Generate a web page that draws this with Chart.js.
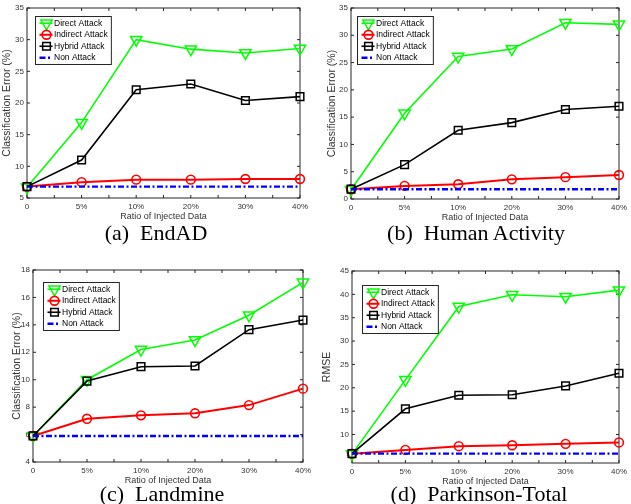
<!DOCTYPE html>
<html>
<head>
<meta charset="utf-8">
<script src="https://cdn.jsdelivr.net/npm/chart.js@4.4.1/dist/chart.umd.min.js"></script>
<style>
  html, body { margin: 0; padding: 0; background: #fff; }
  #page { position: relative; width: 631px; height: 504px; overflow: hidden; }
  .panel { position: absolute; }
  .caption {
    position: absolute;
    font: 22px "Liberation Serif", "Times New Roman", serif;
    color: #000;
    white-space: pre;
    transform: translate(-50%, -50%);
  }
</style>
</head>
<body>
<div id="page">
  <canvas id="endad" class="panel" width="315" height="226" style="left:0;top:0"></canvas>
  <canvas id="human" class="panel" width="316" height="227" style="left:315px;top:0"></canvas>
  <canvas id="landmine" class="panel" width="315" height="240" style="left:0;top:250px"></canvas>
  <canvas id="parkinson" class="panel" width="316" height="241" style="left:315px;top:250px"></canvas>
  <div class="caption" style="left:156px;top:233px">(a)  EndAD</div>
  <div class="caption" style="left:476px;top:233px">(b)  Human Activity</div>
  <div class="caption" style="left:162px;top:494px">(c)  Landmine</div>
  <div class="caption" style="left:479px;top:494px">(d)  Parkinson-Total</div>
</div>
<script>
const categories = ['0', '5%', '10%', '20%', '30%', '40%']

// (a) EndAD
const endadDirect = [6.7, 16.9, 30.0, 28.5, 27.9, 28.6]
const endadIndirect = [6.8, 7.5, 7.9, 7.9, 8.0, 8.0]
const endadHybrid = [6.8, 11.0, 22.1, 23.0, 20.4, 21.0]
const endadNon = [6.8, 6.8, 6.8, 6.8, 6.8, 6.8]

// (b) Human Activity
const humanDirect = [1.7, 15.7, 26.1, 27.5, 32.3, 32.0]
const humanIndirect = [1.8, 2.4, 2.7, 3.6, 4.0, 4.4]
const humanHybrid = [1.8, 6.3, 12.6, 14.0, 16.4, 17.0]
const humanNon = [1.8, 1.8, 1.8, 1.8, 1.8, 1.8]

// (c) Landmine
const landmineDirect = [5.9, 10.0, 12.2, 12.9, 14.7, 17.1]
const landmineIndirect = [5.9, 7.15, 7.4, 7.55, 8.15, 9.35]
const landmineHybrid = [5.9, 9.9, 10.95, 11.0, 13.65, 14.35]
const landmineNon = [5.9, 5.9, 5.9, 5.9, 5.9, 5.9]

// (d) Parkinson-Total
const parkinsonDirect = [5.8, 21.7, 37.4, 39.9, 39.5, 40.9]
const parkinsonIndirect = [5.9, 6.7, 7.5, 7.7, 8.0, 8.3]
const parkinsonHybrid = [5.9, 15.5, 18.4, 18.5, 20.4, 23.1]
const parkinsonNon = [5.9, 5.9, 5.9, 5.9, 5.9, 5.9]

const sans = '"Liberation Sans", Arial, Helvetica, sans-serif'
const textColor = '#333'
const axisColor = '#262626'

// box round the plot with MATLAB style inward ticks
const frame = {
    id: 'frame',
    beforeDatasetsDraw(chart) {
        const {ctx, chartArea: a, scales: {x, y}} = chart
        ctx.save()
        ctx.strokeStyle = axisColor
        ctx.lineWidth = 1
        ctx.strokeRect(a.left, a.top, a.width, a.height)
        ctx.beginPath()
        for (let i = 0; i <= categories.length - 1; i += 0.5) {
            const px = x.getPixelForValue(i)
            ctx.moveTo(px, a.bottom); ctx.lineTo(px, a.bottom - 3)
            ctx.moveTo(px, a.top); ctx.lineTo(px, a.top + 3)
        }
        y.ticks.forEach(t => {
            const py = y.getPixelForValue(t.value)
            ctx.moveTo(a.left, py); ctx.lineTo(a.left + 3, py)
            ctx.moveTo(a.right, py); ctx.lineTo(a.right - 3, py)
        })
        ctx.stroke()
        ctx.restore()
    }
}

// legend inside the plot, boxed
const boxLegend = {
    id: 'boxLegend',
    afterDatasetsDraw(chart, args, opts) {
        const {ctx, chartArea: a} = chart
        const sets = chart.data.datasets
        const x0 = Math.round(a.left + opts.dx) + 0.5
        const y0 = Math.round(a.top + opts.dy) + 0.5
        const rowH = 11.5
        ctx.save()
        ctx.font = `8.5px ${sans}`
        const textW = Math.max(...sets.map(d => ctx.measureText(d.label).width))
        const w = 18 + textW + 4
        const h = rowH * sets.length + 2
        ctx.fillStyle = '#fff'
        ctx.fillRect(x0, y0, w, h)
        ctx.strokeStyle = axisColor
        ctx.lineWidth = 1
        ctx.strokeRect(x0, y0, w, h)
        sets.forEach((d, i) => {
            const cy = y0 + 1 + rowH * (i + 0.5)
            ctx.strokeStyle = d.borderColor
            ctx.lineWidth = d.borderWidth
            ctx.setLineDash(d.borderDash || [])
            ctx.beginPath()
            ctx.moveTo(x0 + 4, cy)
            ctx.lineTo(x0 + 17, cy)
            ctx.stroke()
            ctx.setLineDash([])
            if (d.pointRadius) {
                ctx.fillStyle = 'rgba(0,0,0,0)'
                ctx.lineWidth = d.pointBorderWidth
                Chart.helpers.drawPoint(ctx, {
                    pointStyle: d.pointStyle,
                    rotation: d.pointRotation || 0,
                    radius: d.pointRadius,
                    borderWidth: d.pointBorderWidth
                }, x0 + 11, cy)
            }
            ctx.fillStyle = '#000'
            ctx.textBaseline = 'middle'
            ctx.fillText(d.label, x0 + 18.5, cy)
        })
        ctx.restore()
    }
}

function attackChart(element, series, setup) {
    return new Chart(element, {
        type: 'line',
        plugins: [frame, boxLegend],
        data: {
            labels: categories,
            datasets: [
                {
                    label: 'Direct Attack',
                    data: series[0],
                    borderColor: '#00ff00',
                    borderWidth: 1.6,
                    pointStyle: 'triangle',
                    pointRotation: 180,
                    pointRadius: 6.5,
                    pointBorderWidth: 1.5,
                    pointBackgroundColor: 'rgba(0,0,0,0)',
                    order: 3
                },
                {
                    label: 'Indirect Attack',
                    data: series[1],
                    borderColor: '#ff0000',
                    borderWidth: 2,
                    pointStyle: 'circle',
                    pointRadius: 4.4,
                    pointBorderWidth: 1.6,
                    pointBackgroundColor: 'rgba(0,0,0,0)',
                    order: 2
                },
                {
                    label: 'Hybrid Attack',
                    data: series[2],
                    borderColor: '#000000',
                    borderWidth: 1.6,
                    pointStyle: 'rect',
                    pointRadius: 5.4,
                    pointBorderWidth: 1.5,
                    pointBackgroundColor: 'rgba(0,0,0,0)',
                    order: 1
                },
                {
                    label: 'Non Attack',
                    data: series[3],
                    borderColor: '#0000ff',
                    borderWidth: 2.4,
                    borderDash: [6, 2.5, 2, 2.5],
                    pointRadius: 0,
                    order: 0
                }
            ].map(d => ({...d, tension: 0, clip: false, pointHoverRadius: d.pointRadius}))
        },
        options: {
            responsive: false,
            animation: false,
            events: [],
            layout: {
                autoPadding: false,
                padding: {left: 0, top: setup.top, right: setup.right, bottom: 0}
            },
            plugins: {
                legend: {display: false},
                tooltip: {enabled: false},
                boxLegend: {dx: setup.legendDx, dy: setup.legendDy}
            },
            scales: {
                x: {
                    type: 'category',
                    offset: false,
                    grid: {display: false, drawTicks: false},
                    border: {display: false},
                    ticks: {
                        color: textColor,
                        font: {family: sans, size: 8},
                        padding: 4,
                        maxRotation: 0,
                        autoSkip: false
                    },
                    title: {
                        display: true,
                        text: 'Ratio of Injected Data',
                        color: textColor,
                        font: {family: sans, size: 9},
                        padding: {top: 0, bottom: 4}
                    },
                    afterFit: s => { s.height = 28 }
                },
                y: {
                    min: setup.min,
                    max: setup.max,
                    grid: {display: false, drawTicks: false},
                    border: {display: false},
                    ticks: {
                        stepSize: setup.step,
                        color: textColor,
                        font: {family: sans, size: 8},
                        padding: 3
                    },
                    afterBuildTicks: s => {
                        s.ticks = s.ticks.filter(t => Math.abs(t.value / setup.step - Math.round(t.value / setup.step)) < 1e-6)
                    },
                    title: {
                        display: true,
                        text: setup.yTitle,
                        color: textColor,
                        font: {family: sans, size: 10.5},
                        padding: {top: setup.titlePad, bottom: 0}
                    },
                    afterFit: s => { s.width = setup.yWidth }
                }
            }
        }
    })
}

attackChart(document.getElementById('endad'),
    [endadDirect, endadIndirect, endadHybrid, endadNon],
    {min: 5, max: 35, step: 5, yTitle: 'Classification Error (%)', top: 8, right: 15, yWidth: 27, titlePad: 1, legendDx: 8, legendDy: 8})

attackChart(document.getElementById('human'),
    [humanDirect, humanIndirect, humanHybrid, humanNon],
    {min: 0, max: 35, step: 5, yTitle: 'Classification Error (%)', top: 8, right: 8, yWidth: 36, titlePad: 10.7, legendDx: 6, legendDy: 8})

attackChart(document.getElementById('landmine'),
    [landmineDirect, landmineIndirect, landmineHybrid, landmineNon],
    {min: 4, max: 18, step: 2, yTitle: 'Classification Error (%)', top: 20, right: 8, yWidth: 33, titlePad: 10.7, legendDx: 10, legendDy: 12})

attackChart(document.getElementById('parkinson'),
    [parkinsonDirect, parkinsonIndirect, parkinsonHybrid, parkinsonNon],
    {min: 3.9, max: 45, step: 5, yTitle: 'RMSE', top: 21, right: 4, yWidth: 37, titlePad: 5.7, legendDx: 10, legendDy: 14})
</script>
</body>
</html>
